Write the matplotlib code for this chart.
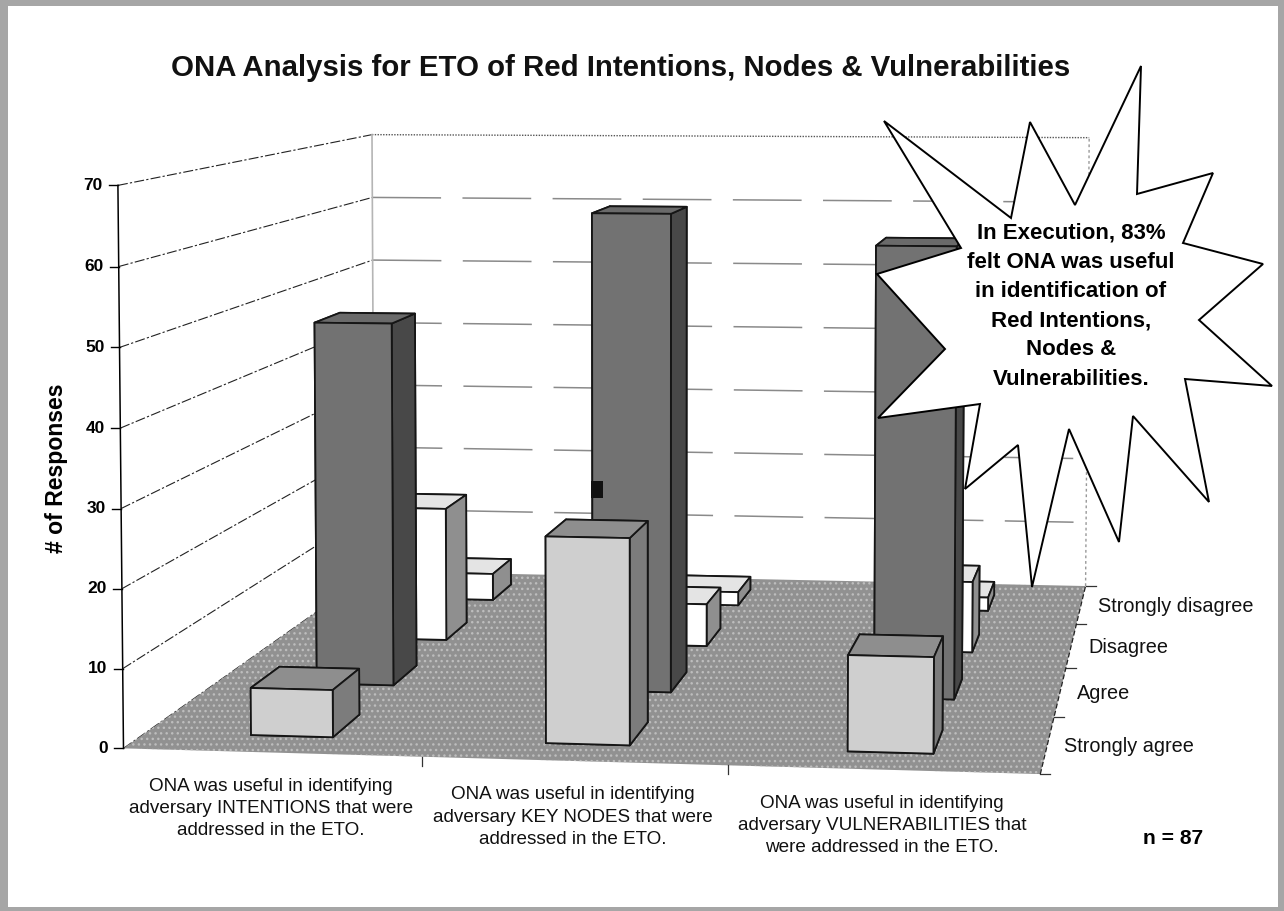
import numpy as np
import matplotlib
matplotlib.use("Agg")
import matplotlib.pyplot as plt
from matplotlib.patches import Polygon, Rectangle
from mpl_toolkits.mplot3d.art3d import Poly3DCollection

plt.rcParams['font.family'] = ['Liberation Sans', 'DejaVu Sans']
plt.rcParams['hatch.linewidth'] = 1.0

W, H = 1284, 911

title = "ONA Analysis for ETO of Red Intentions, Nodes & Vulnerabilities"
categories = ["ONA was useful in identifying\nadversary INTENTIONS that were\naddressed in the ETO.",
              "ONA was useful in identifying\nadversary KEY NODES that were\naddressed in the ETO.",
              "ONA was useful in identifying\nadversary VULNERABILITIES that\nwere addressed in the ETO."]
series = ["Strongly agree", "Agree", "Disagree", "Strongly disagree"]
strongly_agree = [6, 26, 12]
agree = [49, 64, 60]
disagree = [19, 6, 10]
strongly_disagree = [4, 2, 2]
z_ticks = [0, 10, 20, 30, 40, 50, 60, 70]
callout = "In Execution, 83%\nfelt ONA was useful\nin identification of\nRed Intentions,\nNodes &\nVulnerabilities."
note = "n = 87"

# the chart corners as they sit on the page (x, y, z) -> (pixel x, pixel y)
anchors = [((0, 0, 0), (125, 748)), ((0, 0, 70), (117, 185)), ((0, 0, 40), (120, 428)),
           ((0, 4, 0), (373, 572)), ((0, 4, 70), (373, 135)), ((0, 4, 40), (373, 322)),
           ((3, 4, 0), (1086, 585)), ((3, 4, 70), (1089, 138)), ((3, 0, 0), (1040, 775))]


def fit_camera(points):
    # plain DLT, least squares with the last term fixed at 1
    rows, rhs = [], []
    for (x, y, z), (u, v) in points:
        rows.append([x, y, z, 1, 0, 0, 0, 0, -u * x, -u * y, -u * z])
        rows.append([0, 0, 0, 0, x, y, z, 1, -v * x, -v * y, -v * z])
        rhs += [u, v]
    p = np.linalg.lstsq(np.array(rows, float), np.array(rhs, float), rcond=None)[0]
    return np.append(p, 1).reshape(3, 4)


CAM = fit_camera(anchors)


def to_pixel(x, y, z):
    u, v, w = CAM @ np.array([x, y, z, 1.0])
    return u / w, v / w


fig = plt.figure(figsize=(W / 100, H / 100), dpi=100)

# page with its grey frame
bg = fig.add_axes([0, 0, 1, 1], zorder=0)
bg.set_xlim(0, W)
bg.set_ylim(H, 0)
bg.axis('off')
bg.add_patch(Rectangle((0, 0), W, H, fc='#a6a6a6', ec='none'))
bg.add_patch(Rectangle((8, 6), W - 14, H - 10, fc='white', ec='none'))

ax = fig.add_axes([0, 0, 1, 1], projection='3d', computed_zorder=False, zorder=1)
ax.set_axis_off()
ax.patch.set_alpha(0)
ax.apply_aspect = lambda position=None: None

# matrix for mplot3d: pixels -> 2d view limits, third row is only for depth sorting
x0, x1 = ax.viewLim.intervalx
y0, y1 = ax.viewLim.intervaly
to_view = np.array([[(x1 - x0) / W, 0, x0],
                    [0, -(y1 - y0) / H, y1],
                    [0, 0, 1]])
view = to_view @ CAM
M = np.array([view[0], view[1], [0, 0, 1e-6, -1], view[2]])
ax.get_proj = lambda: M

# floor
floor = Poly3DCollection([[(0, 0, 0), (3, 0, 0), (3, 4, 0), (0, 4, 0)]], facecolor='#919191',
                         edgecolor='#bdbdbd', hatch='...', linewidth=0, zorder=2)
ax.add_collection3d(floor)

# walls
for z in z_ticks:
    ax.plot([0, 0], [0, 4], [z, z], color='#222222', lw=0.8, ls=(0, (9, 2, 2, 2)), zorder=1)
    if z == 70:
        ax.plot([0, 3], [4, 4], [z, z], color='#555555', lw=1.0, ls=(0, (1, 1)), zorder=1)
    elif z > 0:
        ax.plot([0, 3], [4, 4], [z, z], color='#8a8a8a', lw=1.1, ls=(0, (45, 14)), zorder=1)
ax.plot([0, 0], [4, 4], [0, 70], color='#b5b5b5', lw=1.2, zorder=1)
ax.plot([3, 3], [4, 4], [0, 70], color='#999999', lw=1.0, ls=(0, (2, 2)), zorder=1)
ax.plot([0, 0], [0, 0], [0, 70], color='black', lw=1.1, zorder=3)

# bars, back row first
bar_w, bar_d = 0.28, 0.42
rows = [(3, strongly_disagree, ['#888888', '#e4e4e4', 'white', '#9a9a9a', '#888888', '#8f8f8f']),
        (2, disagree, ['#888888', '#e4e4e4', 'white', '#9a9a9a', '#888888', '#8f8f8f']),
        (1, agree, ['#444444', '#6a6a6a', '#727272', '#444444', '#444444', '#484848']),
        (0, strongly_agree, ['#777777', '#8e8e8e', '#cfcfcf', '#777777', '#777777', '#7c7c7c'])]
order = 5
for row, values, colours in rows:
    for i, val in enumerate(values):
        ax.bar3d(i + 0.5 - bar_w / 2, row + 0.5 - bar_d / 2, 0, bar_w, bar_d, val, color=colours,
                 shade=False, edgecolor='#151515', linewidth=1.3, zorder=order)
        order += 1

# text and the star sit on top of everything
top = fig.add_axes([0, 0, 1, 1], zorder=2)
top.set_xlim(0, W)
top.set_ylim(H, 0)
top.axis('off')
top.patch.set_alpha(0)

top.text(621, 68, title, ha='center', va='center', fontsize=21.2, fontweight='bold', color='#111111')
top.text(57, 468, "# of Responses", rotation=90, ha='center', va='center', fontsize=16.6, fontweight='bold')

for z in z_ticks:
    u, v = to_pixel(0, 0, z)
    top.text(u - 15, v, str(z), ha='right', va='center', fontsize=12.5, fontweight='bold')
    top.plot([u - 9, u], [v, v], color='black', lw=1.0)

for i, label in enumerate(categories):
    u, v = to_pixel(i + 0.5, 0, 0)
    top.text(u - 1, v + 56, label, ha='center', va='center', fontsize=13.6, linespacing=1.4, color='#111111')
for i in range(1, 3):
    u, v = to_pixel(i, 0, 0)
    top.plot([u, u], [v, v + 9], color='#333333', lw=0.9)

for i, label in enumerate(series):
    u, v = to_pixel(3, i + 0.5, 0)
    top.text(u + 17, v + 2, label, ha='left', va='center', fontsize=14.3, color='#111111')
for i in range(5):
    u, v = to_pixel(3, i, 0)
    top.plot([u, u + 10], [v, v], color='#333333', lw=0.9)
right_edge = np.array([to_pixel(3, 0, 0), to_pixel(3, 4, 0)])
top.plot(right_edge[:, 0], right_edge[:, 1], color='#222222', lw=0.9, ls=(0, (4, 2)))

top.text(1173, 839, note, ha='center', va='center', fontsize=15.2, fontweight='bold')
top.add_patch(Rectangle((591, 481), 12, 17, fc='#111111', ec='none', zorder=4))

star = [(1141, 66), (1137, 194), (1213, 173), (1183, 243), (1263, 264), (1199, 320), (1272, 386), (1185, 379),
        (1209, 502), (1133, 416), (1119, 542), (1069, 429), (1032, 587), (1018, 445), (965, 489), (980, 404),
        (878, 418), (945, 349), (877, 274), (961, 248), (884, 121), (1011, 218), (1030, 122), (1075, 205)]
top.add_patch(Polygon(star, closed=True, fc='white', ec='black', lw=1.4, zorder=5))
top.text(1071, 306, callout, ha='center', va='center', fontsize=16, fontweight='bold', linespacing=1.52, zorder=6)

fig.savefig("out.png", dpi=100)
